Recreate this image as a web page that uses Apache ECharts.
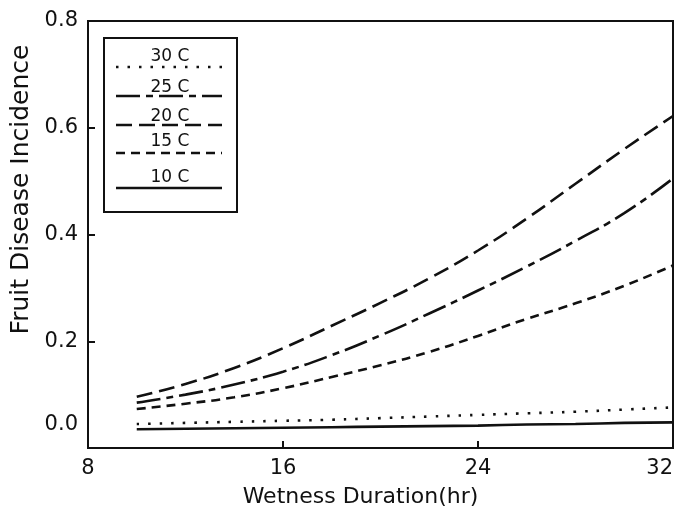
<!DOCTYPE html>
<html>
<head>
<meta charset="utf-8">
<script src="https://cdn.jsdelivr.net/npm/echarts@6/dist/echarts.min.js"></script>
<style>
  html, body { margin: 0; padding: 0; background: #fff; }
  #chart { width: 683px; height: 515px; }
</style>
</head>
<body>
<div id="chart"></div>
<script>
// wetness duration (hr)
const hours = [10, 12, 14, 16, 18, 20, 22, 24, 26, 28, 30, 32];

// fruit disease incidence per temperature
const temp30 = [0.045, 0.047, 0.049, 0.051, 0.053, 0.056, 0.059, 0.062, 0.065, 0.068, 0.072, 0.076];
const temp25 = [0.085, 0.100, 0.119, 0.143, 0.174, 0.211, 0.252, 0.295, 0.340, 0.388, 0.440, 0.505];
const temp20 = [0.096, 0.120, 0.150, 0.187, 0.229, 0.272, 0.318, 0.370, 0.430, 0.495, 0.560, 0.622];
const temp15 = [0.073, 0.083, 0.095, 0.112, 0.133, 0.155, 0.180, 0.210, 0.242, 0.271, 0.304, 0.342];
const temp10 = [0.035, 0.036, 0.037, 0.038, 0.039, 0.040, 0.041, 0.042, 0.044, 0.045, 0.047, 0.048];

const seriesNames = ['30 C', '25 C', '20 C', '15 C', '10 C'];
const xTicks = [8, 16, 24, 32];
const yTicks = [0, 0.2, 0.4, 0.6, 0.8];

const ink = '#111';
const font = 'DejaVu Sans';

// dash patterns: dotted, dash-dot, long dash, short dash, solid
const dashes = [[2.5, 9], [24, 6, 7, 6], [16, 7], [9, 6], 'solid'];
const values = [temp30, temp25, temp20, temp15, temp10];

const series = seriesNames.map((name, i) => ({
  name: name,
  type: 'line',
  smooth: true,
  symbol: 'none',
  lineStyle: { color: ink, width: 2.6, type: dashes[i], cap: 'butt' },
  data: hours.map((h, j) => [h, values[i][j]]),
}));

// hand-drawn style legend box (label above each line sample)
const legendItems = [];
legendItems.push({
  type: 'rect',
  shape: { x: 104, y: 38, width: 133, height: 174 },
  style: { fill: '#fff', stroke: ink, lineWidth: 2 },
});
const textY = [57, 88, 117, 142, 178];
const lineY = [67, 96, 125, 153, 188];
seriesNames.forEach((name, i) => {
  legendItems.push({
    type: 'text',
    style: {
      x: 170, y: textY[i], text: name, fill: ink,
      font: '17px "' + font + '"', align: 'center', verticalAlign: 'middle',
    },
  });
  legendItems.push({
    type: 'line',
    shape: { x1: 116, y1: lineY[i], x2: 222, y2: lineY[i] },
    style: {
      stroke: ink, lineWidth: 2.5,
      lineDash: dashes[i] === 'solid' ? null : dashes[i],
    },
  });
});

const chart = echarts.init(document.getElementById('chart'));

chart.setOption({
  backgroundColor: '#fff',
  animation: false,
  grid: {
    left: 88, right: 10, top: 21, bottom: 67,
    outerBoundsMode: 'none',
    containLabel: false,
    show: true, borderColor: ink, borderWidth: 2, backgroundColor: 'transparent',
  },
  xAxis: {
    type: 'value',
    min: xTicks[0],
    max: xTicks[xTicks.length - 1],
    interval: 8,
    name: 'Wetness Duration(hr)',
    nameLocation: 'middle',
    nameGap: 38,
    nameTextStyle: { color: ink, fontFamily: font, fontSize: 22, padding: [0, 40, 0, 0] },
    axisLine: { lineStyle: { color: ink, width: 2 } },
    axisTick: { inside: true, length: 7, lineStyle: { color: ink, width: 2 } },
    axisLabel: { color: ink, fontFamily: font, fontSize: 21, margin: 10, alignMaxLabel: 'right' },
    splitLine: { show: false },
  },
  yAxis: {
    type: 'value',
    min: yTicks[0],
    max: yTicks[yTicks.length - 1],
    interval: 0.2,
    name: 'Fruit Disease Incidence',
    nameLocation: 'middle',
    nameGap: 44,
    nameTextStyle: { color: ink, fontFamily: font, fontSize: 25, padding: [0, 0, 0, 90] },
    axisLine: { lineStyle: { color: ink, width: 2 } },
    axisTick: { inside: true, length: 7, lineStyle: { color: ink, width: 2 } },
    axisLabel: {
      color: ink, fontFamily: font, fontSize: 21, margin: 10,
      formatter: (v) => (v === 0 ? '{z|0.0}' : v.toFixed(1)),
      rich: { z: { fontFamily: font, fontSize: 21, color: ink, padding: [0, 0, 46, 0] } },
    },
    splitLine: { show: false },
  },
  graphic: legendItems,
  series: series,
});
</script>
</body>
</html>
